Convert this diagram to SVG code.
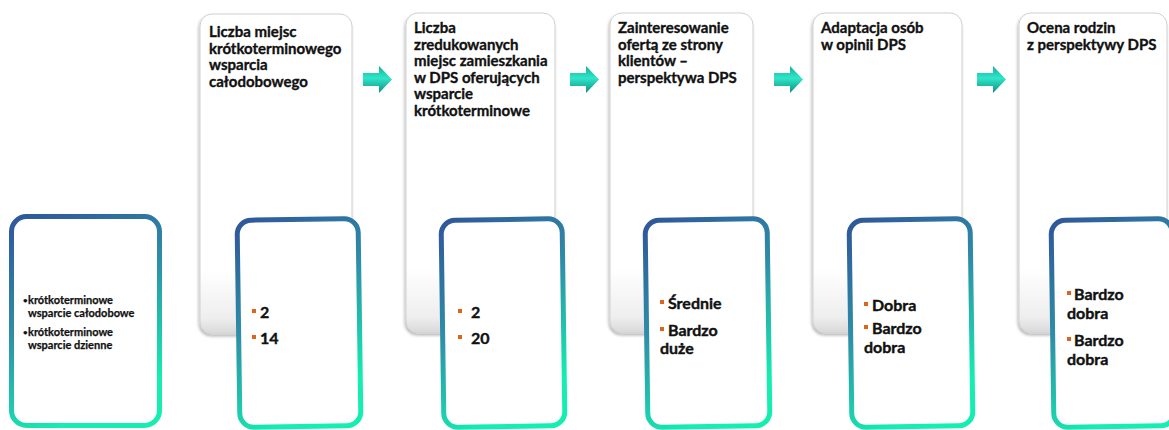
<svg xmlns="http://www.w3.org/2000/svg" width="1169" height="430" viewBox="0 0 1169 430">
<defs>
<linearGradient id="bord" x1="0" y1="0" x2="0.35" y2="1">
<stop offset="0" stop-color="#2f569a"/>
<stop offset="0.5" stop-color="#2e8ea8"/>
<stop offset="1" stop-color="#14eeb0"/>
</linearGradient>
<linearGradient id="gfill" x1="0" y1="0" x2="0" y2="1">
<stop offset="0" stop-color="#ffffff"/>
<stop offset="0.8" stop-color="#ffffff"/>
<stop offset="0.95" stop-color="#eeeeee"/>
<stop offset="1" stop-color="#d8d8d8"/>
</linearGradient>
<linearGradient id="arr" x1="0" y1="0" x2="0" y2="1">
<stop offset="0" stop-color="#12ae9e"/>
<stop offset="0.45" stop-color="#30e6c8"/>
<stop offset="1" stop-color="#0c8f82"/>
</linearGradient>
<filter id="sh" x="-10%" y="-10%" width="120%" height="120%">
<feDropShadow dx="-1" dy="2" stdDeviation="1.5" flood-color="#000" flood-opacity="0.28"/>
</filter>
<g id="arrowShape"><path d="M0 7 H16 V0 L29 13.5 L16 27 V20 H0 Z"/></g>
</defs>
<style>
.gcard{fill:url(#gfill);stroke:#d0d0d0;stroke-width:1;filter:url(#sh)}
.vcard{fill:#ffffff;stroke:url(#bord);stroke-width:5}
.title{font-family:Lato,"Open Sans","Noto Sans",sans-serif;font-weight:bold;font-size:15px;fill:#111;stroke:#111;stroke-width:0.35}
.val{font-family:Lato,"Open Sans","Noto Sans",sans-serif;font-weight:bold;font-size:16px;fill:#111;stroke:#111;stroke-width:0.4}
.small{font-family:Lato,"Open Sans","Noto Sans",sans-serif;font-weight:bold;font-size:11px;fill:#111;stroke:#111;stroke-width:0.25}
.dot{font-size:8px}
.bul{fill:#e0631a}
.arrow{fill:url(#arr)}
</style>
<rect width="1169" height="430" fill="#ffffff"/>

<g id="header1">
<rect class="gcard" x="200" y="14" width="152" height="320" rx="12"/>
<text class="title"><tspan x="209" y="37">Liczba miejsc</tspan><tspan x="209" y="53.5">krótkoterminowego</tspan><tspan x="209" y="70">wsparcia</tspan><tspan x="209" y="86.5">całodobowego</tspan></text>
</g>
<g id="header2">
<rect class="gcard" x="406" y="13" width="149" height="320" rx="12"/>
<text class="title"><tspan x="414" y="33">Liczba</tspan><tspan x="414" y="49.5">zredukowanych</tspan><tspan x="414" y="66">miejsc zamieszkania</tspan><tspan x="414" y="82.5">w DPS oferujących</tspan><tspan x="414" y="99">wsparcie</tspan><tspan x="414" y="115.5">krótkoterminowe</tspan></text>
</g>
<g id="header3">
<rect class="gcard" x="610" y="13" width="143" height="320" rx="12"/>
<text class="title"><tspan x="618" y="33">Zainteresowanie</tspan><tspan x="618" y="49.5">ofertą ze strony</tspan><tspan x="618" y="66">klientów –</tspan><tspan x="618" y="82.5">perspektywa DPS</tspan></text>
</g>
<g id="header4">
<rect class="gcard" x="813" y="13" width="149" height="320" rx="12"/>
<text class="title"><tspan x="821" y="33">Adaptacja osób</tspan><tspan x="821" y="49.5">w opinii DPS</tspan></text>
</g>
<g id="header5">
<rect class="gcard" x="1019" y="13" width="148" height="320" rx="12"/>
<text class="title"><tspan x="1027" y="33">Ocena rodzin</tspan><tspan x="1027" y="49.5">z perspektywy DPS</tspan></text>
</g>

<g id="connectors">
<use href="#arrowShape" class="arrow" x="363" y="66"/>
<use href="#arrowShape" class="arrow" x="570" y="66"/>
<use href="#arrowShape" class="arrow" x="774" y="66"/>
<use href="#arrowShape" class="arrow" x="977" y="66"/>
</g>

<g id="legend">
<rect class="vcard" x="11.5" y="216.5" width="148" height="209" rx="15"/>
<text class="small"><tspan class="dot" x="23" y="303">•</tspan><tspan x="28" y="304">krótkoterminowe</tspan><tspan x="28" y="317">wsparcie całodobowe</tspan><tspan class="dot" x="23" y="335">•</tspan><tspan x="28" y="336">krótkoterminowe</tspan><tspan x="28" y="349">wsparcie dzienne</tspan></text>
</g>

<g id="value1" transform="rotate(-0.8 299 323)">
<rect class="vcard" x="238.5" y="219.5" width="121" height="207" rx="14"/>
</g>
<g id="value1text">
<rect class="bul" x="252" y="309" width="4" height="4"/>
<text class="val" x="260" y="318">2</text>
<rect class="bul" x="252" y="335" width="4" height="4"/>
<text class="val" x="260" y="344">14</text>
</g>

<g id="value2" transform="rotate(-0.8 503 323)">
<rect class="vcard" x="442.5" y="219.5" width="121" height="207" rx="14"/>
</g>
<g id="value2text">
<rect class="bul" x="458" y="309" width="4" height="4"/>
<text class="val" x="471" y="318">2</text>
<rect class="bul" x="458" y="335" width="4" height="4"/>
<text class="val" x="471" y="344">20</text>
</g>

<g id="value3" transform="rotate(-0.8 707 323)">
<rect class="vcard" x="646.5" y="219.5" width="122" height="207" rx="14"/>
</g>
<g id="value3text">
<rect class="bul" x="660" y="300" width="4" height="4"/>
<text class="val" x="668" y="309">Średnie</text>
<rect class="bul" x="660" y="327" width="4" height="4"/>
<text class="val"><tspan x="668" y="336">Bardzo</tspan><tspan x="660" y="354">duże</tspan></text>
</g>

<g id="value4" transform="rotate(-0.8 911 323)">
<rect class="vcard" x="850.5" y="219.5" width="121" height="207" rx="14"/>
</g>
<g id="value4text">
<rect class="bul" x="864" y="302" width="4" height="4"/>
<text class="val" x="872" y="311">Dobra</text>
<rect class="bul" x="864" y="325" width="4" height="4"/>
<text class="val"><tspan x="872" y="334">Bardzo</tspan><tspan x="864" y="353">dobra</tspan></text>
</g>

<g id="value5" transform="rotate(-0.8 1113 323)">
<rect class="vcard" x="1052.5" y="219.5" width="121" height="207" rx="14"/>
</g>
<g id="value5text">
<rect class="bul" x="1067" y="291" width="4" height="4"/>
<text class="val"><tspan x="1074" y="300">Bardzo</tspan><tspan x="1067" y="319">dobra</tspan></text>
<rect class="bul" x="1067" y="337" width="4" height="4"/>
<text class="val"><tspan x="1074" y="346">Bardzo</tspan><tspan x="1067" y="365">dobra</tspan></text>
</g>
</svg>
